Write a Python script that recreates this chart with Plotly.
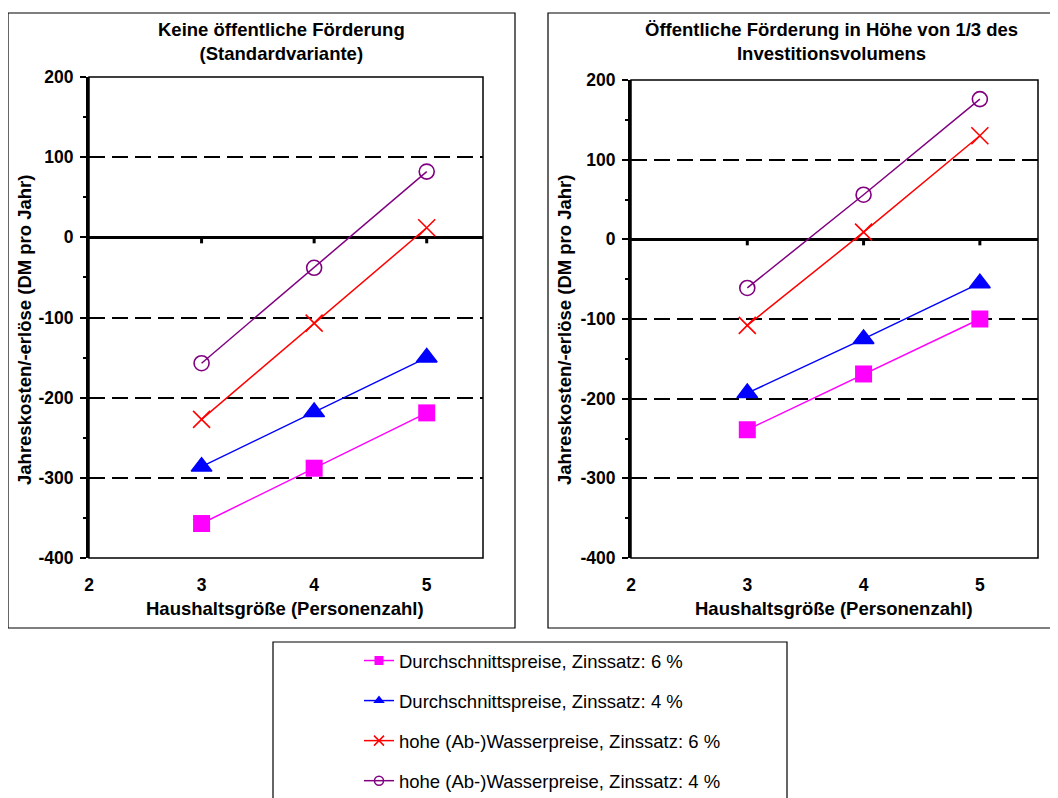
import plotly.graph_objects as go

# the page body adds an 8px margin; the figure is laid out in page pixels
OFF = 8
W, H = 1050, 790
FONT = "Liberation Sans, Arial, sans-serif"

# ---- data ----
haushalt = [3, 4, 5]
series_names = [
    "Durchschnittspreise, Zinssatz: 6 %",
    "Durchschnittspreise, Zinssatz: 4 %",
    "hohe (Ab-)Wasserpreise, Zinssatz: 6 %",
    "hohe (Ab-)Wasserpreise, Zinssatz: 4 %",
]
# left panel: Keine öffentliche Förderung
links_durchschnitt_6 = [-357, -288, -219]
links_durchschnitt_4 = [-286, -218, -150]
links_hoch_6 = [-227, -107, 12]
links_hoch_4 = [-157, -38, 82]
# right panel: Förderung 1/3
rechts_durchschnitt_6 = [-239, -169, -100]
rechts_durchschnitt_4 = [-193, -125, -55]
rechts_hoch_6 = [-108, 9, 130]
rechts_hoch_4 = [-61, 56, 176]

x_ticks = [2, 3, 4, 5]
y_ticks = [-400, -300, -200, -100, 0, 100, 200]
titles = ["Keine öffentliche Förderung<br>(Standardvariante)",
          "Öffentliche Förderung in Höhe von 1/3 des<br>Investitionsvolumens"]
x_title = "Haushaltsgröße (Personenzahl)"
y_title = "Jahreskosten/-erlöse (DM pro Jahr)"

styles = [
    dict(color="#FF00FF", symbol="square", size=17, lw=0, lsize=9),
    dict(color="#0000FF", symbol="triangle-up", size=18, lw=1.5, lsize=10),
    dict(color="#FF0000", symbol="x-thin", size=17, lw=1.6, lsize=10),
    dict(color="#800080", symbol="circle-open", size=15, lw=1.6, lsize=9),
]

def px(x):
    return (x - OFF) / W

def py(y):
    return 1 - (y - OFF) / H

fig = go.Figure()

panels = [
    ("x", "y", [links_durchschnitt_6, links_durchschnitt_4, links_hoch_6, links_hoch_4]),
    ("x2", "y2", [rechts_durchschnitt_6, rechts_durchschnitt_4, rechts_hoch_6, rechts_hoch_4]),
]

for pi, (xa, ya, data) in enumerate(panels):
    for si, vals in enumerate(data):
        st = styles[si]
        fig.add_trace(go.Scatter(
            x=haushalt, y=vals, xaxis=xa, yaxis=ya,
            mode="lines+markers", name=series_names[si],
            legendgroup="g%d" % si, showlegend=False,
            line=dict(color=st["color"], width=1.5),
            marker=dict(symbol=st["symbol"], size=st["size"], color=st["color"],
                        line=dict(color=st["color"], width=st["lw"])),
        ))

# legend entries (smaller symbols, as in the original legend)
for si, name in enumerate(series_names):
    st = styles[si]
    fig.add_trace(go.Scatter(
        x=[None], y=[None], mode="lines+markers", name=name,
        legendgroup="g%d" % si, showlegend=True,
        line=dict(color=st["color"], width=1.5),
        marker=dict(symbol=st["symbol"], size=st["lsize"], color=st["color"],
                    line=dict(color=st["color"], width=min(st["lw"], 1.5) if si != 1 else 0)),
    ))

domains = [
    dict(x=[px(89), px(483)], y=[py(558), py(77)]),
    dict(x=[px(631), px(1038)], y=[py(558), py(80)]),
]

tickfont = dict(family=FONT, size=17.5, color="black", weight=700)

for i, dom in enumerate(domains):
    sfx = "" if i == 0 else "2"
    fig.update_layout(**{
        "xaxis" + sfx: dict(
            domain=dom["x"], range=[2, 5.5], anchor="y" + sfx,
            tickvals=x_ticks, ticktext=[str(v) for v in x_ticks],
            showgrid=False, zeroline=False, showline=False, ticks="",
            tickfont=tickfont, ticklabelstandoff=14, fixedrange=True,
            automargin=False,
        ),
        "yaxis" + sfx: dict(
            domain=dom["y"], range=[-400, 200], anchor="x" + sfx,
            tickvals=y_ticks, ticktext=[str(v) for v in y_ticks],
            showgrid=True, gridcolor="black", gridwidth=2, griddash="16px,7px",
            zeroline=True, zerolinecolor="black", zerolinewidth=3,
            showline=True, linecolor="black", linewidth=3,
            ticks="outside", ticklen=6, tickwidth=2, tickcolor="black",
            minor=dict(dtick=50, tick0=0, ticks="outside", ticklen=3, tickwidth=2,
                       tickcolor="black", showgrid=False),
            tickfont=tickfont, ticklabelstandoff=3, fixedrange=True,
            automargin=False,
        ),
    })

shapes = []
# outer panel frames
shapes.append(dict(type="rect", xref="paper", yref="paper",
                   x0=px(8), x1=px(515), y0=py(628), y1=py(13),
                   line=dict(color="black", width=1.2)))
shapes.append(dict(type="rect", xref="paper", yref="paper",
                   x0=px(548), x1=px(1066), y0=py(628), y1=py(13),
                   line=dict(color="black", width=1.2)))
# legend frame
shapes.append(dict(type="rect", xref="paper", yref="paper",
                   x0=px(273), x1=px(787), y0=py(810), y1=py(642),
                   line=dict(color="black", width=1.2)))
for i in range(2):
    sfx = "" if i == 0 else "2"
    # plot area frame
    shapes.append(dict(type="rect", xref="x%s domain" % sfx, yref="y%s domain" % sfx,
                       x0=0, x1=1, y0=0, y1=1, line=dict(color="black", width=1.5),
                       layer="above"))
    # category tick marks on the zero line
    for xv in x_ticks[1:]:
        shapes.append(dict(type="line", xref="x" + sfx, yref="y" + sfx,
                           ysizemode="pixel", yanchor=0, x0=xv, x1=xv, y0=0, y1=-6,
                           line=dict(color="black", width=3), layer="above"))

annotations = []
title_font = dict(family=FONT, size=18.5, color="black", weight=700)
for cx, txt in [(281, titles[0]), (831, titles[1])]:
    annotations.append(dict(text=txt, x=px(cx), y=py(41), xref="paper", yref="paper",
                            showarrow=False, font=title_font, xanchor="center",
                            yanchor="middle", align="center"))
for cx in [285, 834]:
    annotations.append(dict(text=x_title, x=px(cx), y=py(608), xref="paper", yref="paper",
                            showarrow=False, font=title_font, xanchor="center",
                            yanchor="middle"))
for cx in [25, 565]:
    annotations.append(dict(text=y_title, x=px(cx), y=py(330), xref="paper", yref="paper",
                            showarrow=False, font=title_font, textangle=-90,
                            xanchor="center", yanchor="middle"))

fig.update_layout(
    width=W, height=H, margin=dict(l=0, r=0, t=0, b=0, autoexpand=False),
    paper_bgcolor="white", plot_bgcolor="white",
    shapes=shapes, annotations=annotations,
    showlegend=True,
    legend=dict(x=px(359), y=py(642), xanchor="left", yanchor="top",
                bgcolor="rgba(0,0,0,0)", borderwidth=0,
                font=dict(family=FONT, size=18.5, color="black"),
                tracegroupgap=13, itemsizing="trace"),
    font=dict(family=FONT),
)

fig.write_html("out.html")
